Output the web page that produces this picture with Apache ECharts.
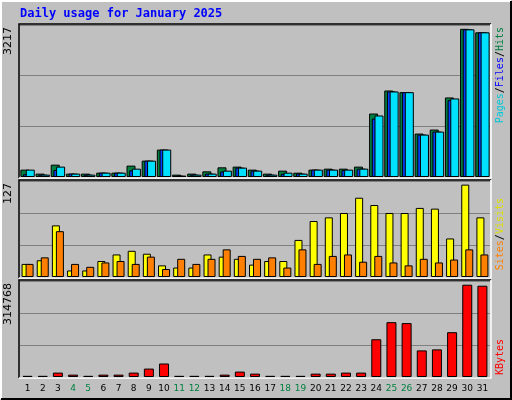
<!DOCTYPE html>
<html><head><meta charset="utf-8">
<script src="https://cdn.jsdelivr.net/npm/echarts@6/dist/echarts.min.js"></script>
<style>html,body{margin:0;padding:0;background:#c0c0c0}#c{width:512px;height:400px}</style>
</head><body><div id="c"></div>
<script>
const days = ['1','2','3','4','5','6','7','8','9','10','11','12','13','14','15','16','17','18','19','20','21','22','23','24','25','26','27','28','29','30','31'];
const weekend = ['4','5','11','12','18','19','25','26'];
const hits  = [160,73,268,73,73,94,94,247,355,595,51,73,123,210,225,160,73,138,94,160,181,181,225,1378,1878,1842,943,1030,1727,3217,3141];
const files = [60,51,152,73,51,94,94,145,355,595,30,51,73,120,203,138,51,70,73,160,160,150,181,1269,1857,1842,921,986,1668,3206,3141];
const pages = [160,51,225,73,51,94,94,181,355,595,30,51,73,138,203,138,51,94,73,160,160,160,181,1335,1857,1842,921,986,1705,3206,3141];
const visits = [18,23,71,9,9,22,31,36,32,16,13,13,31,28,25,17,22,22,51,77,82,88,109,99,88,88,95,94,53,127,82];
const sites  = [18,27,63,18,14,20,22,18,28,11,25,18,25,38,29,25,27,13,38,18,29,31,21,29,20,16,25,20,24,38,31];
const kbytes = [4000,4000,15000,8000,4000,8000,8000,15000,28700,46000,4000,4000,4000,8000,18400,11500,4000,4000,4000,11500,11500,15000,15000,128700,187000,183800,90700,94200,152800,314768,311300];
const maxLabels = ['3217','127','314768'];

const chart = echarts.init(document.getElementById('c'));
const panels = [{top:25,h:152},{top:181,h:96},{top:281,h:96}];
const L=20, W=470;
const maxes=[3300,132,327400];
const grids = panels.map(p=>({left:L,top:p.top,width:W,height:p.h}));
const xAxes = panels.map((p,i)=>({type:'category',gridIndex:i,data:days,
  axisLine:{show:false},axisTick:{show:false},
  axisLabel:i===2?{show:true,interval:0,margin:7,fontFamily:'DejaVu Sans',fontSize:9,
    formatter:v=>weekend.includes(v)?'{w|'+v+'}':'{n|'+v+'}',
    rich:{w:{color:'#008040',fontSize:9,fontFamily:'DejaVu Sans'},n:{color:'#000',fontSize:9,fontFamily:'DejaVu Sans'}}}:{show:false}}));
const yAxes = maxes.map((m,i)=>({type:'value',gridIndex:i,min:0,max:m,interval:m/3,
  axisLabel:{show:false},axisLine:{show:false},axisTick:{show:false},
  splitLine:{lineStyle:{color:'#808080',width:1}}}));
const bs = {borderColor:'#000',borderWidth:1};
const series = [
 {type:'bar',xAxisIndex:0,yAxisIndex:0,data:hits,barWidth:9,barGap:'-70%',itemStyle:{color:'#008040',...bs}},
 {type:'bar',xAxisIndex:0,yAxisIndex:0,data:files,barWidth:9,barGap:'-70%',itemStyle:{color:'#0040ff',...bs}},
 {type:'bar',xAxisIndex:0,yAxisIndex:0,data:pages,barWidth:9,barGap:'-70%',itemStyle:{color:'#00e0ff',...bs}},
 {type:'bar',xAxisIndex:1,yAxisIndex:1,data:visits,barWidth:8,barGap:'-50%',itemStyle:{color:'#ffff00',...bs}},
 {type:'bar',xAxisIndex:1,yAxisIndex:1,data:sites,barWidth:8,barGap:'-50%',itemStyle:{color:'#ff8000',...bs}},
 {type:'bar',xAxisIndex:2,yAxisIndex:2,data:kbytes,barWidth:10,itemStyle:{color:'#ff0000',...bs}}
];
const g=[
 {type:'polyline',shape:{points:[[1,399],[1,1],[511,1]]},style:{stroke:'#fff',lineWidth:2,fill:null}},
 {type:'polyline',shape:{points:[[1,399],[511,399],[511,1]]},style:{stroke:'#000',lineWidth:2,fill:null}},
 {type:'text',left:20,top:8,style:{text:'Daily usage for January 2025',fill:'#0000ff',font:'bold 12px "DejaVu Sans Mono"'}}
];
panels.forEach((p,i)=>{
  g.push({type:'polyline',shape:{points:[[L-1,p.top+p.h+1],[L-1,p.top-1],[L+W+1,p.top-1]]},style:{stroke:'#000',lineWidth:1.5,fill:null},z:10});
  g.push({type:'polyline',shape:{points:[[L-1,p.top+p.h+1],[L+W+1,p.top+p.h+1],[L+W+1,p.top-1]]},style:{stroke:'#fff',lineWidth:1.5,fill:null},z:10});
  g.push({type:'text',x:8,y:p.top+2,rotation:Math.PI/2,style:{text:maxLabels[i],fill:'#000',font:'11px "DejaVu Sans"',align:'right',verticalAlign:'middle'}});
});
const rt=(x,y,rich,text)=>({type:'text',x:x,y:y,rotation:Math.PI/2,style:{text:text,rich:rich,align:'right',verticalAlign:'middle',font:'10px "DejaVu Sans Mono"'}});
g.push(rt(500,27,{p:{fill:'#00c8d8'},s:{fill:'#000'},f:{fill:'#0000ff'},h:{fill:'#008040'}},'{p|Pages}{s|/}{f|Files}{s|/}{h|Hits}'));
g.push(rt(500,198,{a:{fill:'#ff8000'},s:{fill:'#000'},b:{fill:'#e0e000'}},'{a|Sites}{s|/}{b|Visits}'));
g.push(rt(500,339,{k:{fill:'#ff0000'}},'{k|KBytes}'));
chart.setOption({animation:false,backgroundColor:'#c0c0c0',grid:grids,xAxis:xAxes,yAxis:yAxes,series:series,graphic:g});
</script></body></html>
